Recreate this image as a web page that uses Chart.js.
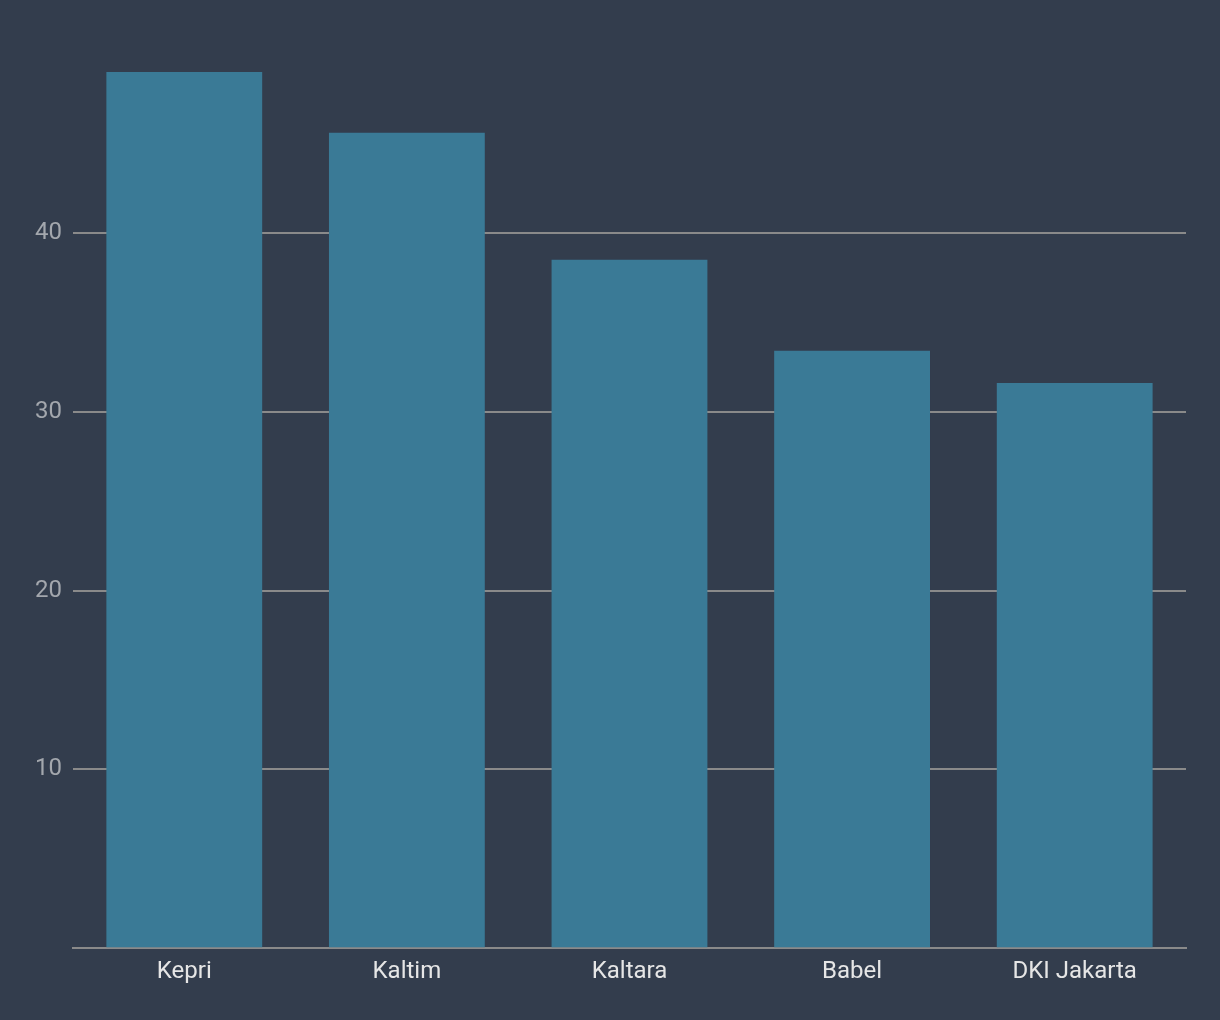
<!DOCTYPE html>
<html>
<head>
<meta charset="utf-8">
<style>
  html, body { margin: 0; padding: 0; background: #333d4d; }
  #wrap { width: 1220px; height: 1020px; }
</style>
</head>
<body>
<div id="wrap"><canvas id="myChart"></canvas></div>
<script src="https://cdn.jsdelivr.net/npm/chart.js"></script>
<script>
  const provinces = ["Kepri", "Kaltim", "Kaltara", "Babel", "DKI Jakarta"];
  const values = [49.0, 45.6, 38.5, 33.4, 31.6];
  const yTicks = [10, 20, 30, 40];

  const bgPlugin = {
    id: "bg",
    beforeDraw: (chart) => {
      const { ctx } = chart;
      ctx.save();
      ctx.globalCompositeOperation = "destination-over";
      ctx.fillStyle = "#333d4d";
      ctx.fillRect(0, 0, chart.width, chart.height);
      ctx.restore();
    },
  };

  new Chart(document.getElementById("myChart"), {
    type: "bar",
    data: {
      labels: provinces,
      datasets: [
        {
          data: values,
          backgroundColor: "#3a7a96",
          barPercentage: 0.7,
          categoryPercentage: 1,
        },
      ],
    },
    options: {
      responsive: true,
      maintainAspectRatio: false,
      animation: false,
      layout: { padding: { left: 24, right: 34, top: 54, bottom: 25 } },
      plugins: { legend: { display: false }, tooltip: { enabled: false } },
      scales: {
        x: {
          grid: { display: false, drawTicks: false },
          border: { display: true, color: "#8a8a8a", width: 2 },
          ticks: {
            color: "#e6e6e6",
            padding: 9,
            font: { family: "Roboto", size: 24 },
          },
        },
        y: {
          min: 0,
          max: 50,
          border: { display: false },
          grid: {
            drawTicks: false,
            lineWidth: 2,
            color: (c) => (yTicks.includes(c.tick.value) ? "#8a8a8a" : "transparent"),
          },
          ticks: {
            stepSize: 10,
            padding: 11,
            color: "#a3a7ad",
            font: { family: "Roboto", size: 24 },
            callback: (v) => (yTicks.includes(v) ? v : ""),
          },
        },
      },
    },
    plugins: [bgPlugin],
  });
</script>
</body>
</html>
